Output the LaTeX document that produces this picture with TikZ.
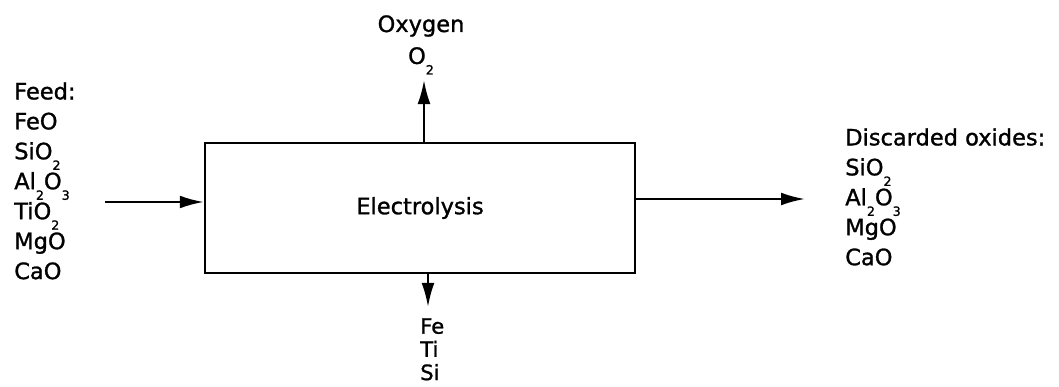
\documentclass[tikz,border=0pt]{standalone}
\usepackage{fontspec}
\setmainfont{DejaVu Sans}[BoldFont=DejaVu Sans,BoldFeatures={FakeBold=1.2}]
\usetikzlibrary{arrows.meta,positioning}
\newcommand\chsub[1]{\raisebox{-7.5pt}[0pt][0pt]{\fontsize{9}{9}\selectfont #1}}
\begin{document}
\begin{tikzpicture}[
x=0.025cm,y=-0.025cm,
every node/.style={font=\fontsize{16}{21.3}\selectfont\bfseries},
flow/.style={-{Latex[length=6mm,width=3.2mm]},line width=1.6pt},
list/.style={align=left,inner sep=0pt,anchor=north west}
]
\useasboundingbox (0,0) rectangle (1059,387);
\node[draw,line width=1.6pt,minimum width=10.75cm,minimum height=3.25cm](cell) at (420,208){Electrolysis};
\node[list](feed) at (14,82){Feed:\\FeO\\SiO\chsub{2}\\Al\chsub{2}O\chsub{3}\\TiO\chsub{2}\\MgO\\CaO};
\node[list](waste) at (845,128){Discarded oxides:\\SiO\chsub{2}\\Al\chsub{2}O\chsub{3}\\MgO\\CaO};
\node[align=center,inner sep=0pt,anchor=north,font=\fontsize{16}{22.7}\selectfont\bfseries](gas) at (421,15){Oxygen\\O\chsub{2}};
\node[list,font=\fontsize{15}{16.5}\selectfont\bfseries](metal) at (420,318){Fe\\Ti\\Si};
% streams in and out
\coordinate (in) at (105,202);
\coordinate (out) at (805,199);
\coordinate (up) at (424,80);
\coordinate (down) at (428,307);
\draw[flow] (in) -- (in -| cell.west);
\draw[flow] (out -| cell.east) -- (out);
\draw[flow] (up |- cell.north) -- (up);
\draw[flow] (down |- cell.south) -- (down);
\end{tikzpicture}
\end{document}
